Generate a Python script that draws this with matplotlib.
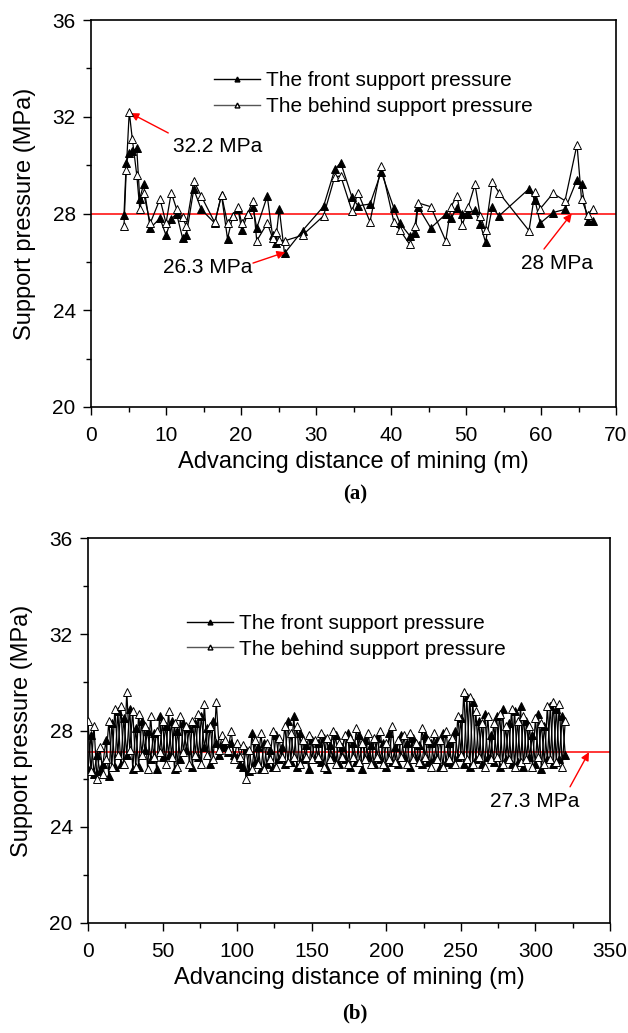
import numpy as np
import matplotlib
matplotlib.use("Agg")
import matplotlib.pyplot as plt
from matplotlib.ticker import MultipleLocator
from matplotlib.lines import Line2D

plt.rcParams['font.family'] = ['Liberation Sans', 'DejaVu Sans']

# ---------------- panel (a) data ----------------
x_a = [4.4, 4.7, 5.1, 5.5, 6.1, 6.5, 7.0, 7.9, 9.2, 10.0, 10.7, 11.4, 12.2, 12.7,
       13.7, 14.7, 16.5, 17.4, 18.2, 18.9, 19.6, 20.1, 20.9, 21.6, 22.1, 23.5,
       24.2, 24.6, 25.1, 25.8, 28.2, 31.0, 32.5, 33.3, 34.8, 35.6, 37.2, 38.7,
       40.4, 41.2, 42.5, 43.2, 43.6, 45.3, 47.3, 48.0, 48.8, 49.5, 50.3, 51.2,
       51.9, 52.6, 53.5, 54.4, 58.4, 59.2, 59.9, 61.6, 63.2, 64.8, 65.4, 66.2, 66.9]
front_a = [27.95, 30.1, 30.5, 30.6, 30.7, 28.6, 29.2, 27.4, 27.8, 27.1, 27.76, 28.0,
           27.0, 27.1, 29.0, 28.17, 27.6, 28.77, 26.95, 27.9, 28.2, 27.3, 28.0, 28.25,
           27.4, 28.72, 27.1, 26.8, 28.2, 26.35, 27.29, 28.29, 29.82, 30.1, 28.67,
           28.32, 28.39, 29.72, 28.21, 27.59, 27.08, 27.2, 28.28, 27.4, 27.97, 27.8,
           28.24, 28.0, 28.0, 28.14, 27.56, 26.82, 28.25, 27.9, 29.02, 28.55, 27.6,
           28.04, 28.17, 29.4, 29.2, 27.67, 27.67]
behind_a = [27.48, 29.8, 32.2, 31.1, 29.6, 28.2, 28.86, 27.6, 28.6, 27.6, 28.86, 28.2,
            27.84, 27.48, 29.35, 28.72, 27.63, 28.77, 27.6, 27.9, 28.25, 27.6, 28.0,
            28.53, 26.87, 27.6, 27.0, 27.23, 26.9, 26.87, 27.1, 27.9, 29.52, 29.55,
            28.1, 28.86, 27.66, 29.96, 27.63, 27.31, 26.72, 27.5, 28.44, 28.28, 26.87,
            28.28, 28.74, 27.52, 28.28, 29.2, 27.9, 27.31, 29.3, 28.86, 27.29, 28.9,
            28.2, 28.83, 28.53, 30.85, 28.6, 27.95, 28.2]
avg_a = 28.0

# ---------------- panel (b) data ----------------
step_b = 2
front_b = [
    26.4, 27.8, 26.2, 27.0, 26.3, 26.6,
    27.6, 26.1, 28.3, 26.5, 28.8, 26.6, 28.5, 27.0, 28.9, 26.4,
    28.1, 26.5, 28.4, 27.2, 28.0, 26.8, 27.9, 26.4, 28.6, 26.9,
    28.2, 27.0, 28.4, 26.4, 28.0, 26.8, 28.3, 27.2, 28.1, 26.5,
    28.3, 26.9, 28.6, 27.3, 28.1, 26.6, 28.4, 27.5, 27.0, 27.4,
    27.3, 27.1, 27.5, 27.0, 26.9, 26.6, 26.5, 27.2, 26.3, 27.9,
    26.7, 27.3, 26.4, 27.5, 26.6, 27.2, 26.5, 27.8, 26.8, 27.3,
    26.6, 28.4, 26.7, 28.6, 26.5, 27.9, 26.8, 27.4, 26.4, 27.6,
    26.8, 27.5, 26.7, 27.7, 26.4, 27.4, 26.9, 27.8, 26.6, 27.3,
    26.8, 27.9, 26.5, 27.5, 26.7, 27.8, 26.4, 27.6, 26.9, 27.4,
    26.6, 27.7, 26.8, 27.5, 26.5, 27.9, 26.7, 27.3, 26.6, 27.8,
    26.9, 27.5, 26.5, 27.7, 26.8, 27.4, 26.6, 27.8, 26.7, 27.5,
    26.8, 27.6, 26.5, 27.9, 26.7, 27.5, 26.6, 28.0, 26.9, 28.5,
    26.6, 29.4, 26.5, 29.2, 26.8, 28.4, 26.6, 28.7, 26.9, 27.8,
    26.7, 28.6, 26.5, 28.9, 26.8, 28.3, 26.6, 28.8, 26.7, 29.0,
    26.5, 28.4, 26.9, 27.8, 26.6, 28.7, 26.4, 28.2, 26.8, 29.0,
    26.6, 28.9, 26.8, 28.6, 27.0]
behind_b = [
    28.4, 26.3, 28.2, 26.0, 27.3, 26.2,
    26.8, 28.4, 26.5, 28.9, 27.0, 29.0, 26.6, 29.6, 27.2, 28.8,
    26.5, 28.7, 27.0, 28.2, 26.4, 28.6, 26.9, 28.0, 27.1, 28.4,
    26.6, 28.8, 26.9, 28.3, 26.5, 28.6, 27.1, 28.2, 26.6, 28.4,
    27.0, 28.7, 26.6, 29.1, 27.0, 28.2, 26.8, 29.2, 27.2, 27.8,
    27.6, 27.2, 28.0, 26.8, 27.5, 26.9, 27.4, 26.0, 27.2, 26.4,
    27.6, 26.6, 27.9, 26.4, 27.5, 26.8, 28.0, 26.5, 27.7, 26.9,
    28.2, 26.7, 27.9, 26.9, 28.2, 26.6, 27.6, 26.9, 27.8, 26.8,
    27.6, 26.9, 27.9, 26.5, 27.7, 26.8, 28.0, 26.6, 27.5, 26.9,
    27.8, 26.6, 27.7, 26.9, 28.1, 26.7, 27.5, 26.8, 27.9, 26.6,
    27.7, 26.9, 28.0, 26.6, 27.5, 26.8, 28.2, 26.7, 27.6, 26.9,
    27.8, 26.6, 27.9, 26.8, 27.5, 26.7, 28.1, 26.9, 27.6, 26.5,
    27.9, 26.8, 27.6, 26.5, 28.0, 26.8, 27.7, 26.6, 28.6, 27.0,
    29.6, 26.8, 29.4, 26.6, 28.8, 26.9, 28.3, 26.5, 28.6, 26.8,
    28.3, 26.9, 28.7, 26.6, 28.2, 26.8, 28.9, 26.5, 28.4, 26.7,
    28.6, 26.8, 28.2, 26.5, 28.5, 26.9, 28.3, 26.6, 29.0, 26.8,
    29.2, 26.7, 29.1, 26.5, 28.4]
x_b = np.arange(len(front_b)) * step_b
avg_b_line = 27.1
avg_b_label = "27.3 MPa"

labels = ["The front support pressure", "The behind support pressure"]

W, H = 628, 1033
fig = plt.figure(figsize=(W / 100, H / 100), dpi=100)

def px_axes(l, t, r, b):
    return fig.add_axes([l / W, 1 - b / H, (r - l) / W, (b - t) / H])

ax1 = px_axes(91, 20, 616, 407)
ax2 = px_axes(88, 538, 610, 923)

def style(ax, xmax, xmajor, xminor):
    ax.set_ylim(20, 36)
    ax.set_xlim(0, xmax)
    ax.yaxis.set_major_locator(MultipleLocator(4))
    ax.yaxis.set_minor_locator(MultipleLocator(2))
    ax.xaxis.set_major_locator(MultipleLocator(xmajor))
    ax.xaxis.set_minor_locator(MultipleLocator(xminor))
    ax.tick_params(which='major', direction='out', length=6, width=1, labelsize=15,
                   pad=5, top=False, right=False)
    ax.tick_params(axis='x', which='major', pad=8)
    ax.tick_params(which='minor', direction='out', length=3.5, width=1,
                   top=False, right=False)
    for s in ax.spines.values():
        s.set_linewidth(1.2)
    ax.set_xlabel("Advancing distance of mining (m)", fontsize=17, labelpad=4)
    ax.set_ylabel("Support pressure (MPa)", fontsize=17, labelpad=12)

lw = 0.9
ms = 6
for ax, xs, fr, bh in [(ax1, x_a, front_a, behind_a), (ax2, x_b, front_b, behind_b)]:
    ax.plot(xs, fr, '-', color='black', lw=lw, marker='^', ms=ms,
            mfc='black', mec='black', mew=0.7, label=labels[0], zorder=3)
    ax.plot(xs, bh, '-', color='black', lw=lw, marker='^', ms=ms,
            mfc='white', mec='black', mew=0.7, label=labels[1], zorder=4)

ax1.axhline(avg_a, color='red', lw=1.1, zorder=2)
ax2.axhline(avg_b_line, color='red', lw=1.1, zorder=2)

style(ax1, 70, 10, 5)
style(ax2, 350, 50, 25)

h1 = Line2D([], [], color='black', lw=1, marker='^', ms=3.5, mfc='black', mec='black')
h2 = Line2D([], [], color='#555555', lw=1, marker='^', ms=3.5, mfc='white', mec='black')
for ax, anchor in [(ax1, (0.235, 0.867)), (ax2, (0.19, 0.803))]:
    ax.legend([h1, h2], labels, loc='upper left', bbox_to_anchor=anchor,
              frameon=False, fontsize=15, handlelength=2.2, handletextpad=0.3,
              labelspacing=0.33, borderaxespad=0, borderpad=0)

arr = dict(arrowstyle='-|>', color='red', lw=1.0, mutation_scale=12,
           shrinkA=0, shrinkB=0)
# panel (a) annotations: text and arrows
ax1.text(16.9, 30.75, "32.2 MPa", fontsize=15, ha='center', va='center')
ax1.annotate("", xy=(5.25, 32.15), xytext=(10.3, 31.33), arrowprops=arr)
ax1.text(15.6, 25.75, "26.3 MPa", fontsize=15, ha='center', va='center')
ax1.annotate("", xy=(25.9, 26.4), xytext=(21.6, 25.95), arrowprops=arr)
ax1.text(62.1, 25.95, "28 MPa", fontsize=15, ha='center', va='center')
ax1.annotate("", xy=(64.1, 28.0), xytext=(60.4, 26.53), arrowprops=arr)
# panel (b)
ax2.text(299.7, 25.05, avg_b_label, fontsize=15, ha='center', va='center')
ax2.annotate("", xy=(335.9, avg_b_line), xytext=(323.2, 25.66), arrowprops=arr)

fig.text(355 / W, 1 - 494 / H, "(a)", family='Liberation Serif', weight='bold',
         fontsize=15, ha='center', va='center')
fig.text(355 / W, 1 - 1013 / H, "(b)", family='Liberation Serif', weight='bold',
         fontsize=15, ha='center', va='center')

fig.savefig("out.png", dpi=100)
